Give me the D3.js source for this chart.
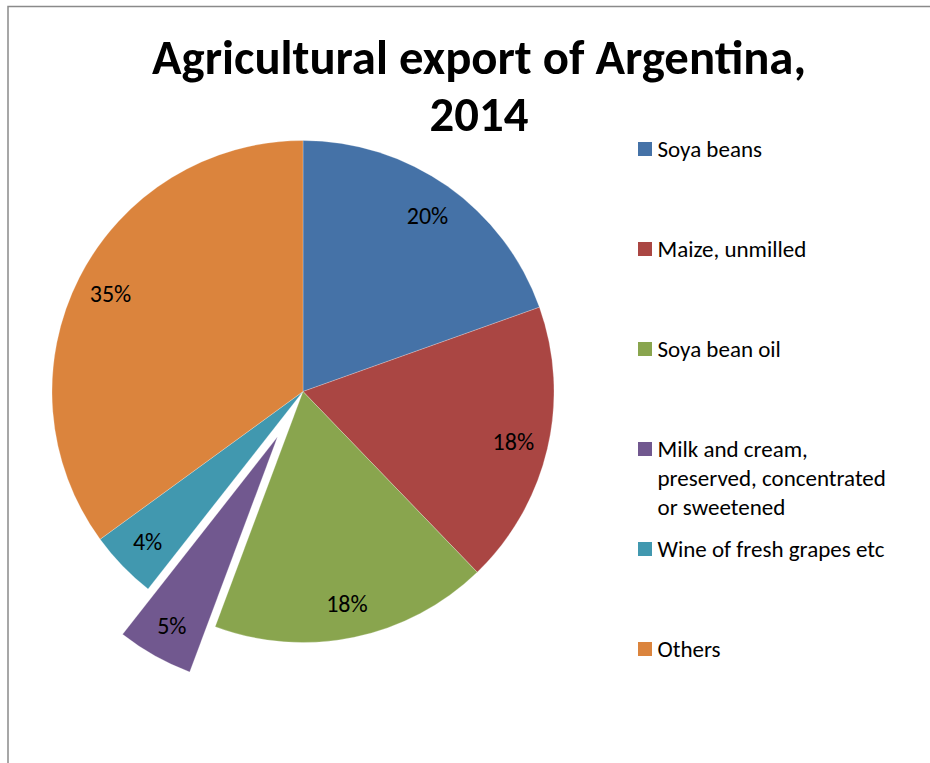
<!DOCTYPE html>
<html>
<head>
<meta charset="utf-8">
<script src="https://cdn.jsdelivr.net/npm/d3@7"></script>
<style>
  html, body { margin: 0; padding: 0; background: #fff; }
  svg { display: block; }
  text { font-family: Carlito, Calibri, Lato, "Open Sans", sans-serif; fill: #000; }
</style>
</head>
<body>
<svg id="chart" width="930" height="763"></svg>
<script>
// Agricultural export shares of Argentina, 2014 (percent of total)
const categories = [
  "Soya beans",
  "Maize, unmilled",
  "Soya bean oil",
  "Milk and cream, preserved, concentrated or sweetened",
  "Wine of fresh grapes etc",
  "Others"
];
const shares = [19.55, 18.24, 17.90, 4.90, 4.39, 35.02];
const titleLines = ["Agricultural export of Argentina,", "2014"];
const explodedCategory = "Milk and cream, preserved, concentrated or sweetened";

const colors = ["#4572A7", "#AA4643", "#89A54E", "#71588F", "#4198AF", "#DB843D"];

const W = 930, H = 763;
const cx = 303, cy = 391.5, R = 251;
const labelR = 216;
const explodeDist = 52;

const svg = d3.select("#chart");

// chart frame (only its top and left edges fall inside the view)
svg.append("rect")
  .attr("x", 8).attr("y", 6.5)
  .attr("width", W + 40).attr("height", H + 40)
  .attr("fill", "none")
  .attr("stroke", "#8a8a8a")
  .attr("stroke-width", 1.5);

// title
const title = svg.append("g").attr("class", "title");
const titleTargetWidth = 654;
title.selectAll("text")
  .data(titleLines)
  .join("text")
  .attr("x", 479)
  .attr("y", (d, i) => 74 + i * 57)
  .attr("text-anchor", "middle")
  .style("font-weight", "900")
  .style("font-size", "48px")
  .text(d => d);
// fit the first title line to its width, keep the same horizontal squeeze on the second
{
  const nodes = title.selectAll("text").nodes();
  const w0 = nodes[0].getComputedTextLength();
  const k = titleTargetWidth / w0;
  nodes.forEach(n => {
    const w = n.getComputedTextLength();
    d3.select(n).attr("textLength", w * k).attr("lengthAdjust", "spacingAndGlyphs");
  });
}

// pie
const data = categories.map((c, i) => ({ name: c, value: shares[i], color: colors[i] }));
const pie = d3.pie().value(d => d.value).sort(null).startAngle(0).endAngle(2 * Math.PI);
const arcs = pie(data);
const arc = d3.arc().innerRadius(0).outerRadius(R);
const labelArc = d3.arc().innerRadius(labelR).outerRadius(labelR);
const fmt = d3.format(".0%");

const offsetOf = d => {
  if (d.data.name !== explodedCategory) return [0, 0];
  const a = (d.startAngle + d.endAngle) / 2;
  return [Math.sin(a) * explodeDist, -Math.cos(a) * explodeDist];
};

const pieG = svg.append("g").attr("transform", `translate(${cx},${cy})`);
const slices = pieG.selectAll("g.slice")
  .data(arcs)
  .join("g")
  .attr("class", "slice")
  .attr("transform", d => `translate(${offsetOf(d)})`);

slices.append("path")
  .attr("d", arc)
  .attr("fill", d => d.data.color)
  .attr("stroke", "#ffffff")
  .attr("stroke-width", 0.4)
  .attr("stroke-opacity", 0.6);

slices.append("text")
  .attr("transform", d => `translate(${labelArc.centroid(d)})`)
  .attr("text-anchor", "middle")
  .attr("dy", "0.36em")
  .style("font-size", "24px")
  .text(d => fmt(d.value / 100));

// legend
const legendY = d3.scalePoint().domain(categories).range([149, 649]);
const legendX = 638, swatch = 14, textX = 657.5, lineH = 29, wrapWidth = 246;
const legend = svg.append("g").attr("class", "legend");

categories.forEach((c, i) => {
  const y = legendY(c);
  legend.append("rect")
    .attr("x", legendX).attr("y", y - swatch / 2)
    .attr("width", swatch).attr("height", swatch)
    .attr("fill", colors[i]);
  const t = legend.append("text")
    .attr("x", textX).attr("y", y)
    .style("font-size", "23px");
  // word wrap
  const words = c.split(" ");
  let line = [];
  let tspan = t.append("tspan").attr("x", textX).attr("dy", "0.36em");
  words.forEach(w => {
    line.push(w);
    tspan.text(line.join(" "));
    if (tspan.node().getComputedTextLength() > wrapWidth && line.length > 1) {
      line.pop();
      tspan.text(line.join(" "));
      line = [w];
      tspan = t.append("tspan").attr("x", textX).attr("dy", lineH + "px").text(w);
    }
  });
});
</script>
</body>
</html>
